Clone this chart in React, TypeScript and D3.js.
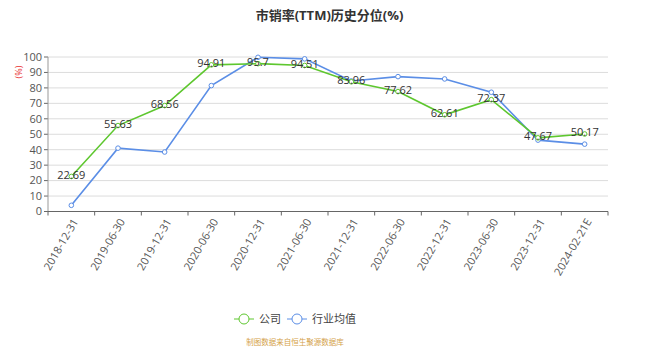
import React from "react";
import * as d3 from "d3";

const categories = ["2018-12-31","2019-06-30","2019-12-31","2020-06-30","2020-12-31","2021-06-30","2021-12-31","2022-06-30","2022-12-31","2023-06-30","2023-12-31","2024-02-21E"];
const companyValues = [22.69,55.63,68.56,94.91,95.7,94.51,83.96,77.62,62.61,72.37,47.67,50.17];
const industryValues = [4,41,38.5,81.5,99.8,98.8,84.5,87.3,85.8,77.2,46.2,43.6];
const yTicks = [0,10,20,30,40,50,60,70,80,90,100];
const seriesNames = ["公司","行业均值"];

const W = 659, H = 357;
const L = 48, R = 608, T = 57, B = 211.5;
const green = "#5ec72f";
const blue = "#5b8ee6";
const font = "'Open Sans', 'Noto Sans CJK SC', sans-serif";

export default function App() {
  const x = d3.scaleBand().domain(categories).range([L, R]);
  const y = d3.scaleLinear().domain([0, 100]).range([B, T]);
  const cx = (c: string) => (x(c) as number) + x.bandwidth() / 2;
  const line = d3.line<number>().x((_, i) => cx(categories[i])).y(d => y(d));
  return (
    <svg width={W} height={H} style={{ position: "absolute", left: 0, top: 0, fontFamily: font }}>
      <text x={W / 2} y={20} textAnchor="middle" fontSize={13} fontWeight="bold" fill="#333">市销率(TTM)历史分位(%)</text>
      {yTicks.map(t => (
        <g key={t}>
          <line x1={L} x2={R} y1={y(t)} y2={y(t)} stroke="#dcdcdc" strokeWidth={1} />
          <line x1={L - 4} x2={L} y1={y(t)} y2={y(t)} stroke="#666" />
          <text x={L - 6} y={y(t)} dy="0.35em" textAnchor="end" fontSize={11} fill="#555">{t}</text>
        </g>
      ))}
      <line x1={L} x2={L} y1={T} y2={B} stroke="#999" />
      <line x1={L} x2={R} y1={B} y2={B} stroke="#666" />
      {categories.concat([""]).map((c, i) => {
        const xp = L + i * x.bandwidth();
        return <line key={i} x1={xp} x2={xp} y1={B} y2={B + 4} stroke="#666" />;
      })}
      {categories.map(c => (
        <text key={c} transform={`translate(${cx(c) + 4},${B + 8}) rotate(-60)`} textAnchor="end" dy="0.35em" fontSize={11} fill="#555">{c}</text>
      ))}
      <text transform={`translate(22,72) rotate(-90)`} textAnchor="middle" fontSize={9} fill="#e83030">(%)</text>
      <path d={line(industryValues) || ""} fill="none" stroke={blue} strokeWidth={1.6} />
      <path d={line(companyValues) || ""} fill="none" stroke={green} strokeWidth={1.6} />
      {industryValues.map((v, i) => (
        <circle key={"b" + i} cx={cx(categories[i])} cy={y(v)} r={2.3} fill="#fff" stroke={blue} strokeWidth={1} />
      ))}
      {companyValues.map((v, i) => (
        <circle key={"g" + i} cx={cx(categories[i])} cy={y(v)} r={2.3} fill="#fff" stroke={green} strokeWidth={1} />
      ))}
      {companyValues.map((v, i) => (
        <text key={"t" + i} x={cx(categories[i])} y={y(v) + 2.5} textAnchor="middle" fontSize={11} fill="#333">{v}</text>
      ))}
      <g>
        <line x1={234} x2={254} y1={319} y2={319} stroke={green} />
        <circle cx={244} cy={319} r={5} fill="#fff" stroke={green} />
        <text x={259} y={319} dy="0.35em" fontSize={11} fill="#444">{seriesNames[0]}</text>
        <line x1={287} x2={307} y1={319} y2={319} stroke={blue} />
        <circle cx={297} cy={319} r={5} fill="#fff" stroke={blue} />
        <text x={312} y={319} dy="0.35em" fontSize={11} fill="#444">{seriesNames[1]}</text>
      </g>
      <text x={295} y={342} dy="0.35em" textAnchor="middle" fontSize={7.5} fill="#d4a24a">制图数据来自恒生聚源数据库</text>
    </svg>
  );
}
